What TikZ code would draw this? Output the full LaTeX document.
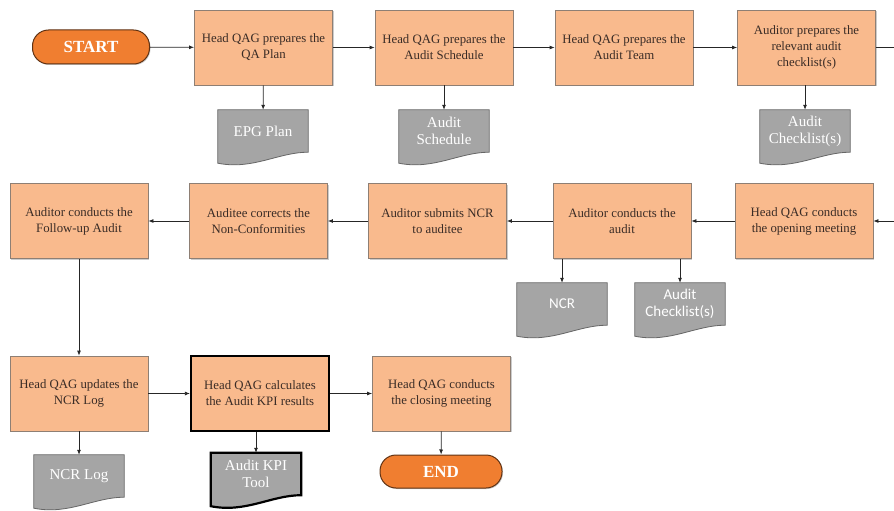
\documentclass[tikz,border=0pt]{standalone}
\usepackage{fontspec}
\setmainfont{Liberation Serif}
\newfontfamily\calfont{Carlito}
\definecolor{myorange}{HTML}{F07E30}
\definecolor{mypeach}{HTML}{F9BA8D}
\definecolor{mygray}{HTML}{A5A5A5}
\definecolor{myline}{HTML}{8E7F74}
\definecolor{mytext}{HTML}{3A2C26}
\usetikzlibrary{positioning, backgrounds, shadows, arrows.meta, calc}
\tikzset{
	processnode/.style={
			rectangle,
			draw=myline,
			fill=mypeach,
			line width=0.8pt,
			text=mytext,
			minimum width=138pt,
			minimum height=75pt,
			align=center,
			font=\fontsize{12.8}{16}\selectfont,
			drop shadow={shadow xshift=1.2pt, shadow yshift=-1.2pt, opacity=0.4}
		},
	kpinode/.style={
			processnode,
			draw=black,
			line width=2.2pt
		},
	terminalnode/.style={
			rectangle,
			rounded corners=16pt,
			draw=myorange!40!black,
			fill=myorange,
			line width=1pt,
			text=white,
			minimum width=117pt,
			minimum height=34pt,
			font=\fontsize{17}{20}\selectfont\bfseries,
			drop shadow={shadow xshift=1pt, shadow yshift=-1pt, opacity=0.4}
		},
	docnode/.style={
			rectangle,
			draw=none,
			text=white,
			minimum width=90pt,
			minimum height=42pt,
			inner sep=1pt,
			align=center,
			font=\fontsize{15}{17}\selectfont
		},
	docline/.style={
			draw=gray!80!black,
			fill=mygray,
			line width=0.8pt
		},
	arrowline/.style={
			draw=black!85,
			line width=0.8pt,
			-{Latex[length=5pt, width=4pt]}
		}
}

\begin{document}
\begin{tikzpicture}[x=1pt, y=1pt]
\useasboundingbox (0,0) rectangle (894,-511);

% first row
\node[terminalnode] (tStart) at (91,-47) {START};
\node[processnode] (tPlan) at (263.5,-47.5) {Head QAG prepares the\\QA Plan};
\node[processnode] (tSched) at (444,-47.5) {Head QAG prepares the\\Audit Schedule};
\node[processnode] (tTeam) at (624,-47.5) {Head QAG prepares the\\Audit Team};
\node[processnode] (tCheck) at (806.5,-47.5) {Auditor prepares the\\relevant audit\\checklist(s)};

\node[docnode] (dPlan) at (263,-131) {EPG Plan};
\node[docnode] (dSched) at (444,-131) {Audit\\Schedule};
\node[docnode] (dCheck) at (805,-131) {Audit\\Checklist(s)};

% second row
\node[processnode] (tFollow) at (79,-221) {Auditor conducts the\\Follow-up Audit};
\node[processnode] (tCorrect) at (258.5,-221) {Auditee corrects the\\Non-Conformities};
\node[processnode] (tSubmit) at (437.5,-221) {Auditor submits NCR\\to auditee};
\node[processnode] (tConduct) at (622,-221) {Auditor conducts the\\audit};
\node[processnode] (tOpen) at (804,-221) {Head QAG conducts\\the opening meeting};

\node[docnode, font=\calfont\fontsize{15}{17}\selectfont] (dNcr) at (562,-304) {NCR};
\node[docnode, font=\calfont\fontsize{15}{17}\selectfont] (dCheckB) at (680,-304) {Audit\\Checklist(s)};

% third row
\node[processnode] (tUpdate) at (79,-393.5) {Head QAG updates the\\NCR Log};
\node[kpinode] (tKpi) at (260,-393.5) {Head QAG calculates\\the Audit KPI results};
\node[processnode] (tClose) at (441.5,-393.5) {Head QAG conducts\\the closing meeting};

\node[docnode] (dLog) at (79,-476) {NCR Log};
\node[docnode] (dTool) at (256,-474) {Audit KPI\\Tool};
\node[terminalnode, minimum width=122pt, minimum height=33pt] (tEnd) at (441,-471.5) {END};

% document outlines
\begin{scope}[on background layer]
\foreach \d in {dPlan, dSched, dCheck, dNcr, dCheckB, dLog}
	\draw[docline] (\d.north west) -- (\d.north east) -- (\d.south east)
		.. controls ([shift={(-30,0)}]\d.south east) and ([shift={(35,-18)}]\d.south west) ..
		([shift={(0,-11)}]\d.south west) -- cycle;
\draw[docline, draw=black, line width=2.2pt] (dTool.north west) -- (dTool.north east) -- (dTool.south east)
	.. controls ([shift={(-30,0)}]dTool.south east) and ([shift={(35,-18)}]dTool.south west) ..
	([shift={(0,-11)}]dTool.south west) -- cycle;
\end{scope}

% connectors
\draw[arrowline] (tStart) -- (tPlan);
\draw[arrowline] (tPlan) -- (tSched);
\draw[arrowline] (tSched) -- (tTeam);
\draw[arrowline] (tTeam) -- (tCheck);
\draw[arrowline] (tCheck.east) -- ++(40,0) |- (tOpen.east);
\draw[arrowline] (tOpen) -- (tConduct);
\draw[arrowline] (tConduct) -- (tSubmit);
\draw[arrowline] (tSubmit) -- (tCorrect);
\draw[arrowline] (tCorrect) -- (tFollow);
\draw[arrowline] (tFollow) -- (tUpdate);
\draw[arrowline] (tUpdate) -- (tKpi);
\draw[arrowline] (tKpi) -- (tClose);
\draw[arrowline] (tClose) -- (tEnd);

\draw[arrowline] (tPlan) -- (dPlan);
\draw[arrowline] (tSched) -- (dSched);
\draw[arrowline] (dCheck.north |- tCheck.south) -- (dCheck);
\draw[arrowline] (dNcr.north |- tConduct.south) -- (dNcr);
\draw[arrowline] (dCheckB.north |- tConduct.south) -- (dCheckB);
\draw[arrowline] (tUpdate) -- (dLog);
\draw[arrowline] (dTool.north |- tKpi.south) -- (dTool);
\end{tikzpicture}
\end{document}
